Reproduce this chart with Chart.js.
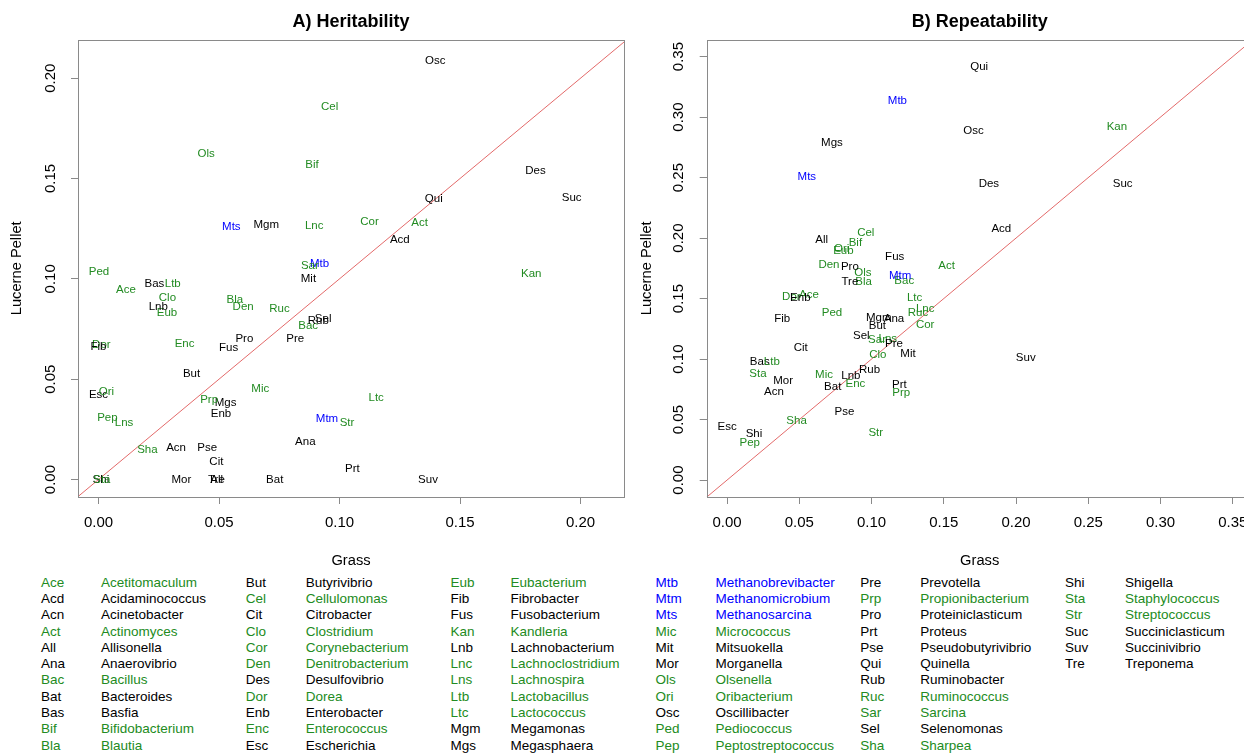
<!DOCTYPE html>
<html>
<head>
<meta charset="utf-8">
<title>Heritability / Repeatability</title>
<script src="https://cdn.jsdelivr.net/npm/chart.js@4.4.0/dist/chart.umd.min.js"></script>
<style>
body { margin: 0; background: #fff; }
#lienzo { position: relative; width: 1244px; height: 753px; overflow: hidden; background: #fff; font-family: "Liberation Sans", Arial, sans-serif; }
#graficoHered { position: absolute; left: 0; top: 0; }
#graficoRepet { position: absolute; left: 630px; top: 0; }
.ley { position: absolute; font-size: 13.5px; line-height: 16px; white-space: nowrap; }
</style>
</head>
<body>
<div id="lienzo">
    <canvas id="graficoHered" width="630" height="575"></canvas>
    <canvas id="graficoRepet" width="640" height="575"></canvas>
</div>
<script>
// Generos (mismo orden que la leyenda)
var abrev = ['Ace','Acd','Acn','Act','All','Ana','Bac','Bat','Bas','Bif','Bla',
    'But','Cel','Cit','Clo','Cor','Den','Des','Dor','Enb','Enc','Esc',
    'Eub','Fib','Fus','Kan','Lnb','Lnc','Lns','Ltb','Ltc','Mgm','Mgs',
    'Mtb','Mtm','Mts','Mic','Mit','Mor','Ols','Ori','Osc','Ped','Pep',
    'Pre','Prp','Pro','Prt','Pse','Qui','Rub','Ruc','Sar','Sel','Sha',
    'Shi','Sta','Str','Suc','Suv','Tre'];

var generos = ['Acetitomaculum','Acidaminococcus','Acinetobacter','Actinomyces','Allisonella','Anaerovibrio','Bacillus','Bacteroides','Basfia','Bifidobacterium','Blautia',
    'Butyrivibrio','Cellulomonas','Citrobacter','Clostridium','Corynebacterium','Denitrobacterium','Desulfovibrio','Dorea','Enterobacter','Enterococcus','Escherichia',
    'Eubacterium','Fibrobacter','Fusobacterium','Kandleria','Lachnobacterium','Lachnoclostridium','Lachnospira','Lactobacillus','Lactococcus','Megamonas','Megasphaera',
    'Methanobrevibacter','Methanomicrobium','Methanosarcina','Micrococcus','Mitsuokella','Morganella','Olsenella','Oribacterium','Oscillibacter','Pediococcus','Peptostreptococcus',
    'Prevotella','Propionibacterium','Proteiniclasticum','Proteus','Pseudobutyrivibrio','Quinella','Ruminobacter','Ruminococcus','Sarcina','Selenomonas','Sharpea',
    'Shigella','Staphylococcus','Streptococcus','Succiniclasticum','Succinivibrio','Treponema'];

// v = verde, n = negro, a = azul
var grupo = ['v','n','n','v','n','n','v','n','n','v','v',
    'n','v','n','v','v','v','n','v','n','v','n',
    'v','n','n','v','n','v','v','v','v','n','n',
    'a','a','a','v','n','n','v','v','n','v','v',
    'n','v','n','n','n','n','n','v','v','n','v',
    'n','v','v','n','n','n'];

// A) Heritability
var heredGrass = [0.0114,0.1250,0.0322,0.1332,0.0490,0.0858,0.0870,0.0731,0.0232,0.0886,0.0566,
    0.0386,0.0959,0.0489,0.0286,0.1124,0.0600,0.1813,0.0012,0.0508,0.0357,0.0000,
    0.0284,0.0000,0.0540,0.1795,0.0248,0.0895,0.0106,0.0308,0.1152,0.0696,0.0527,
    0.0917,0.0948,0.0551,0.0671,0.0871,0.0344,0.0447,0.0033,0.1397,0.0002,0.0037,
    0.0816,0.0459,0.0605,0.1053,0.0451,0.1391,0.0912,0.0751,0.0877,0.0932,0.0203,
    0.0010,0.0014,0.1031,0.1963,0.1367,0.0489];
var heredLucerne = [0.0945,0.1196,0.0156,0.1279,0.0000,0.0186,0.0768,0.0000,0.0977,0.1566,0.0896,
    0.0527,0.1856,0.0090,0.0904,0.1285,0.0859,0.1537,0.0669,0.0325,0.0675,0.0423,
    0.0832,0.0663,0.0655,0.1025,0.0861,0.1265,0.0282,0.0974,0.0408,0.1269,0.0383,
    0.1076,0.0302,0.1259,0.0451,0.1001,0.0000,0.1622,0.0436,0.2085,0.1033,0.0307,
    0.0701,0.0398,0.0701,0.0055,0.0159,0.1400,0.0791,0.0851,0.1066,0.0803,0.0148,
    0.0000,0.0000,0.0282,0.1403,0.0000,0.0000];

// B) Repeatability
var repetGrass = [0.0567,0.1898,0.0324,0.1519,0.0655,0.1155,0.1226,0.0731,0.0226,0.0888,0.0945,
    0.1040,0.0960,0.0510,0.1043,0.1371,0.0705,0.1812,0.0445,0.0507,0.0888,0.0000,
    0.0805,0.0381,0.1160,0.2698,0.0857,0.1371,0.1112,0.0310,0.1298,0.1050,0.0726,
    0.1179,0.1198,0.0552,0.0671,0.1252,0.0388,0.0940,0.0793,0.1705,0.0726,0.0157,
    0.1155,0.1205,0.0850,0.1193,0.0812,0.1745,0.0986,0.1321,0.1038,0.0929,0.0481,
    0.0186,0.0214,0.1029,0.2738,0.2067,0.0850];
var repetLucerne = [0.1530,0.2078,0.0730,0.1770,0.1985,0.1334,0.1646,0.0772,0.0976,0.1963,0.1635,
    0.1276,0.2045,0.1094,0.1039,0.1279,0.1778,0.2448,0.1516,0.1510,0.0799,0.0438,
    0.1894,0.1334,0.1841,0.2916,0.0860,0.1417,0.1171,0.0976,0.1510,0.1342,0.2787,
    0.3134,0.1687,0.2508,0.0868,0.1045,0.0821,0.1709,0.1913,0.2889,0.1384,0.0309,
    0.1125,0.0725,0.1759,0.0791,0.0568,0.3412,0.0910,0.1384,0.1163,0.1188,0.0488,
    0.0378,0.0874,0.0391,0.2445,0.1012,0.1635];

// Ticks de los ejes
var ticksHered = [0, 0.05, 0.10, 0.15, 0.20];
var ticksRepet = [0, 0.05, 0.10, 0.15, 0.20, 0.25, 0.30, 0.35];

// Linea y = x
var identidad = [-1, 1];

var colores = { v: '#228B22', n: '#000000', a: '#0000FF' };
var fuente = '"Liberation Sans", Arial, sans-serif';
var gris = '#8a8a8a';

Chart.defaults.font.family = fuente;
Chart.defaults.color = '#000';

// dibuja las abreviaturas en lugar de puntos
var pluginEtiquetas = {
    id: 'etiquetas',
    afterDatasetsDraw: function(chart) {
        var meta = chart.getDatasetMeta(1);
        var ctx = chart.ctx;
        ctx.save();
        ctx.font = '11.5px ' + fuente;
        ctx.textAlign = 'center';
        ctx.textBaseline = 'middle';
        for (var i = 0; i < meta.data.length; i++) {
            ctx.fillStyle = colores[grupo[i]];
            ctx.fillText(abrev[i], meta.data[i].x, meta.data[i].y);
        }
        ctx.restore();
    }
};

// caja alrededor del area del grafico
var pluginCaja = {
    id: 'caja',
    afterDraw: function(chart) {
        var a = chart.chartArea;
        var ctx = chart.ctx;
        ctx.save();
        ctx.strokeStyle = gris;
        ctx.lineWidth = 1;
        ctx.strokeRect(Math.round(a.left) + 0.5, Math.round(a.top) + 0.5, Math.round(a.right - a.left), Math.round(a.bottom - a.top));
        ctx.restore();
    }
};

function crearGrafico(id, titulo, datosX, datosY, ticksX, ticksY, rangoX, rangoY, anchoEjeY, altoEjeX, padDer) {
    var puntos = [];
    for (var i = 0; i < datosX.length; i++) {
        puntos.push({ x: datosX[i], y: datosY[i] });
    }
    var linea = [];
    for (var i = 0; i < identidad.length; i++) {
        linea.push({ x: identidad[i], y: identidad[i] });
    }

    new Chart(document.getElementById(id), {
        type: 'scatter',
        data: {
            datasets: [{
                data: linea,
                showLine: true,
                borderColor: '#e36a6a',
                borderWidth: 1,
                pointRadius: 0
            }, {
                data: puntos,
                pointRadius: 0
            }]
        },
        options: {
            responsive: false,
            animation: false,
            layout: { padding: { left: 0, top: 0, right: padDer, bottom: 0 } },
            plugins: {
                legend: { display: false },
                tooltip: { enabled: false },
                title: {
                    display: true,
                    text: titulo,
                    fullSize: false,
                    color: '#000',
                    font: { size: 18, weight: 'bold' },
                    padding: { top: 11, bottom: 7 }
                }
            },
            scales: {
                x: {
                    type: 'linear',
                    min: rangoX[0],
                    max: rangoX[1],
                    afterBuildTicks: function(scale) {
                        scale.ticks = ticksX.map(function(v) { return { value: v }; });
                    },
                    afterFit: function(scale) { scale.height = altoEjeX; },
                    ticks: {
                        autoSkip: false,
                        minRotation: 0,
                        maxRotation: 0,
                        padding: 10,
                        color: '#000',
                        font: { size: 15 },
                        callback: function(v) { return Number(v).toFixed(2); }
                    },
                    grid: { display: true, drawOnChartArea: false, drawTicks: true, tickLength: 7, color: gris },
                    border: { display: false },
                    title: { display: true, text: 'Grass', color: '#000', font: { size: 14.7 }, padding: { top: 0, bottom: 5 } }
                },
                y: {
                    type: 'linear',
                    min: rangoY[0],
                    max: rangoY[1],
                    afterBuildTicks: function(scale) {
                        scale.ticks = ticksY.map(function(v) { return { value: v }; });
                    },
                    afterFit: function(scale) { scale.width = anchoEjeY; },
                    ticks: {
                        autoSkip: false,
                        minRotation: 90,
                        maxRotation: 90,
                        crossAlign: 'center',
                        padding: 6,
                        color: '#000',
                        font: { size: 15 },
                        callback: function(v) { return Number(v).toFixed(2); }
                    },
                    grid: { display: true, drawOnChartArea: false, drawTicks: true, tickLength: 7, color: gris },
                    border: { display: false },
                    title: { display: true, text: 'Lucerne Pellet', color: '#000', font: { size: 14.7 }, padding: { top: 8, bottom: 0 } }
                }
            }
        },
        plugins: [pluginEtiquetas, pluginCaja]
    });
}

function crearLeyenda() {
    var cont = document.getElementById('lienzo');
    for (var i = 0; i < abrev.length; i++) {
        var col = Math.floor(i / 11);
        var fila = i % 11;
        var x = 41 + col * 204.8;
        var y = 582.3 + fila * 16.27 - 7.5;
        var a = document.createElement('div');
        a.className = 'ley';
        a.style.left = x + 'px';
        a.style.top = y + 'px';
        a.style.color = colores[grupo[i]];
        a.innerText = abrev[i];
        cont.appendChild(a);
        var n = document.createElement('div');
        n.className = 'ley';
        n.style.left = (x + 60) + 'px';
        n.style.top = y + 'px';
        n.style.color = colores[grupo[i]];
        n.innerText = generos[i];
        cont.appendChild(n);
    }
}

crearGrafico('graficoHered', 'A) Heritability', heredGrass, heredLucerne, ticksHered, ticksHered,
    [-0.0085, 0.2180], [-0.0087, 0.2192], 78, 78, 6);
crearGrafico('graficoRepet', 'B) Repeatability', repetGrass, repetLucerne, ticksRepet, ticksRepet,
    [-0.0141, 0.3637], [-0.0140, 0.3640], 76.7, 78, 17.4);
crearLeyenda();
</script>
</body>
</html>
